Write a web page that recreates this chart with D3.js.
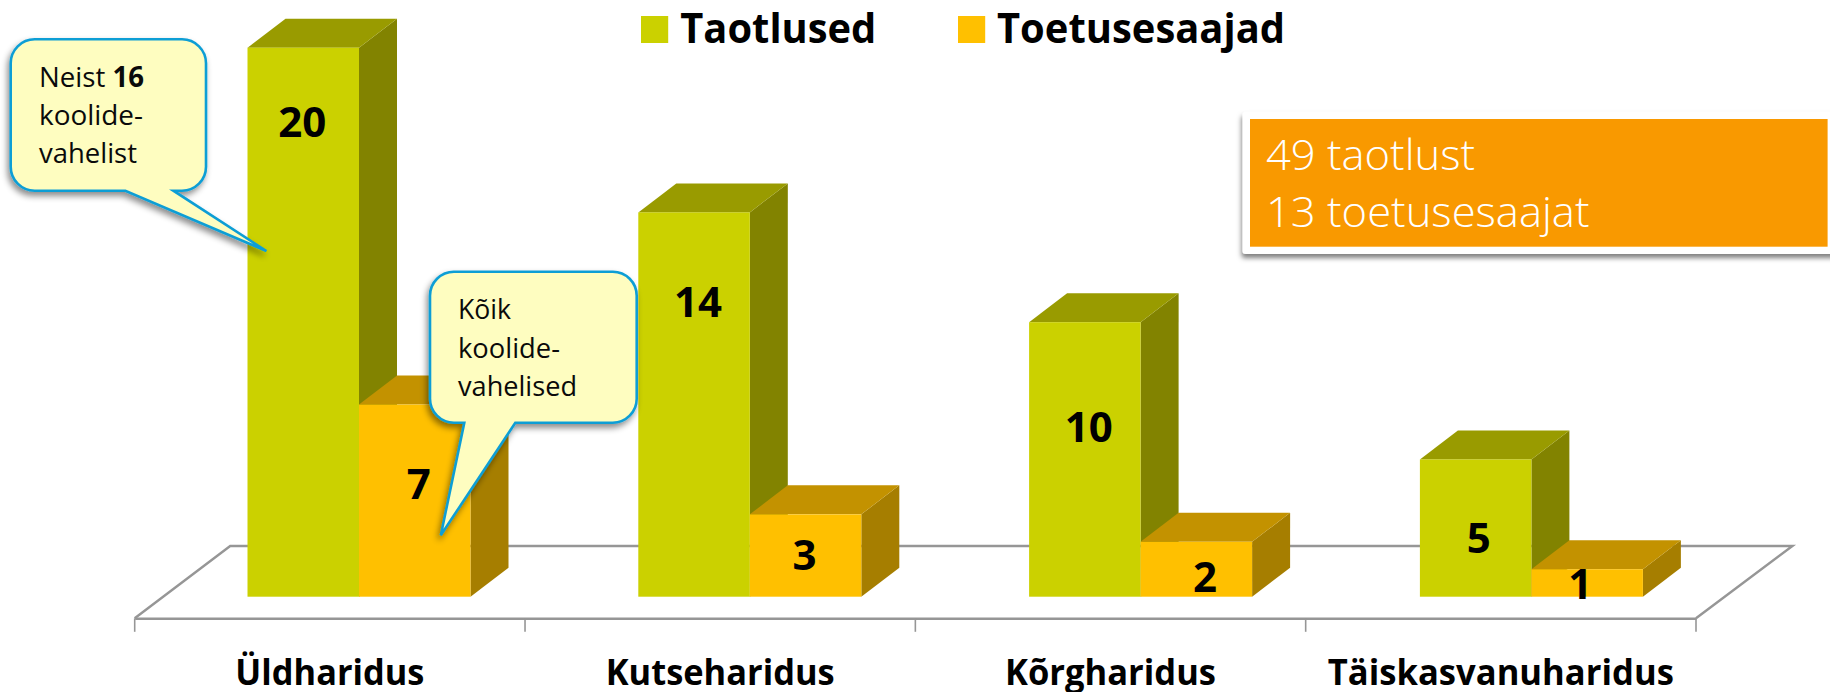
<!DOCTYPE html>
<html><head><meta charset="utf-8">
<script src="https://cdn.jsdelivr.net/npm/d3@7"></script>
<style>html,body{margin:0;padding:0;background:#fff;overflow:hidden}svg{display:block}text{font-family:"Open Sans",sans-serif}</style>
</head><body><svg id="c" width="1830" height="692"></svg>
<script>
const categories = ["Üldharidus","Kutseharidus","Kõrgharidus","Täiskasvanuharidus"];
const taotlused = [20,14,10,5];
const toetusesaajad = [7,3,2,1];
const seriesNames = ["Taotlused","Toetusesaajad"];
const summaryLines = ["49 taotlust","13 toetusesaajat"];

// Layout (separate from data)
const W=1830,H=692,baseY=596.7,topY=47.7,floorFront=618.3,floorBack=546,floorDX=95.5;
const depthX=38,depthY=29;
const colors={Taotlused:{front:"#CBD100",top:"#999B00",side:"#828300"},Toetusesaajad:{front:"#FFC000",top:"#C39200",side:"#A67E00"}};
const labelNudge={Taotlused:[[-1,89],[4,105],[4,120],[3,94]],Toetusesaajad:[[4,94],[-1,56],[8.6,50],[-7,29.5]]};
const axisTextLen=[189,229,211,346];

const svg=d3.select("#c");
const defs=svg.append("defs");
const mkShadow=(id,dx,dy,sd,op)=>defs.append("filter").attr("id",id).attr("x","-20%").attr("y","-20%").attr("width","140%").attr("height","140%")
  .append("feDropShadow").attr("dx",dx).attr("dy",dy).attr("stdDeviation",sd).attr("flood-color","#000").attr("flood-opacity",op);
mkShadow("s1",-2,4,3,.45);
mkShadow("s2",-1,4,2.5,.5);

const x0=d3.scaleBand().domain(categories).range([134.7,1696]);
const xBars=d3.scaleBand().domain(categories).range([247.5,247.5+4*390.8]);
const x1=d3.scaleBand().domain(seriesNames).range([0,223]);
const y=d3.scaleLinear().domain([0,20]).range([baseY,topY]);

// floor
const fx0=x0.range()[0],fx1=x0.range()[1];
svg.append("path").attr("d",d3.line()([[fx0,floorFront],[fx0+floorDX,floorBack],[fx1+floorDX+1,floorBack],[fx1,floorFront]]))
  .attr("fill","#fff").attr("stroke","#969696").attr("stroke-width",2.4).attr("stroke-linejoin","miter");

// axis
const axis=svg.append("g").attr("transform",`translate(0,${floorFront})`)
  .call(d3.axisBottom(x0).tickSize(0).tickPadding(0));
axis.select(".domain").attr("stroke","#969696").attr("stroke-width",2.4);
axis.selectAll("text").attr("y",66.7).attr("dy",0).attr("fill","#000")
  .style("font-size","36px").style("font-weight",700)
  .attr("textLength",(d,i)=>axisTextLen[i]).attr("lengthAdjust","spacingAndGlyphs");
const edges=categories.map(c=>x0(c)).concat([fx1]);
svg.append("g").selectAll("line").data(edges).join("line")
  .attr("x1",d=>d).attr("x2",d=>d).attr("y1",floorFront).attr("y2",floorFront+13.5)
  .attr("stroke","#969696").attr("stroke-width",1.6);

// bars
const poly=(pts)=>d3.line()(pts)+"Z";
const rows=categories.map((c,i)=>[{c,i,s:"Taotlused",v:taotlused[i]},{c,i,s:"Toetusesaajad",v:toetusesaajad[i]}]);
const bars=svg.append("g");
rows.flat().forEach(d=>{
  const g=bars.append("g"),l=xBars(d.c)+x1(d.s),r=l+x1.bandwidth(),t=y(d.v),b=y(0),k=colors[d.s];
  g.append("path").attr("d",poly([[r,t],[r+depthX,t-depthY],[r+depthX,b-depthY],[r,b]])).attr("fill",k.side);
  g.append("path").attr("d",poly([[l,t],[l+depthX,t-depthY],[r+depthX,t-depthY],[r,t]])).attr("fill",k.top);
  g.append("rect").attr("x",l).attr("y",t).attr("width",r-l).attr("height",b-t).attr("fill",k.front);
});
// value labels
const labels=svg.append("g");
rows.flat().forEach(d=>{
  const n=labelNudge[d.s][d.i],l=xBars(d.c)+x1(d.s);
  labels.append("text").attr("x",l+x1.bandwidth()/2+n[0]).attr("y",y(d.v)+n[1])
    .attr("text-anchor","middle").style("font-size","42px").style("font-weight",700).attr("fill","#000").text(d.v);
});

// legend
const legendX=[[641,680.3,196],[958,997,288]];
const lg=svg.append("g");
seriesNames.forEach((s,i)=>{
  lg.append("rect").attr("x",legendX[i][0]).attr("y",16).attr("width",27.2).attr("height",27).attr("fill",colors[s].front);
  lg.append("text").attr("x",legendX[i][1]).attr("y",43.2).style("font-size","42px").style("font-weight",700).attr("fill","#000")
    .attr("textLength",legendX[i][2]).attr("lengthAdjust","spacingAndGlyphs").text(s);
});

// summary box
svg.append("rect").attr("x",1242.6).attr("y",111.7).attr("width",620).attr("height",142.3).attr("rx",3).attr("fill","#fff").attr("filter","url(#s2)");
svg.append("rect").attr("x",1250).attr("y",119).attr("width",577.6).attr("height",127.7).attr("fill","#F99900");
const sumY=[170,226.7],sumLen=[209,323.5];
summaryLines.forEach((t,i)=>svg.append("text").attr("x",1266).attr("y",sumY[i]).style("font-size","42px").style("font-weight",300).attr("fill","#fff")
  .attr("textLength",sumLen[i]).attr("lengthAdjust","spacingAndGlyphs").text(t));

// callouts
function callout(l,t,r,b,rad,ta,tip,tb){
  const p=d3.path();
  p.moveTo(l+rad,t);p.lineTo(r-rad,t);p.arcTo(r,t,r,t+rad,rad);p.lineTo(r,b-rad);p.arcTo(r,b,r-rad,b,rad);
  p.lineTo(tb,b);p.lineTo(tip[0],tip[1]);p.lineTo(ta,b);p.lineTo(l+rad,b);p.arcTo(l,b,l,b-rad,rad);p.lineTo(l,t+rad);p.arcTo(l,t,l+rad,t,rad);p.closePath();
  svg.append("path").attr("d",p.toString()).attr("fill","#FEFDC0").attr("stroke","#0F9ED5").attr("stroke-width",2.6).attr("stroke-linejoin","miter").attr("filter","url(#s1)");
}
callout(10.7,39.3,206,190.7,24,125.4,[266.4,251],173.4);
callout(430,271.7,636.7,422.7,24,464.3,[440.8,535.3],515.3);
const note=(x,yy,len,parts)=>{const t=svg.append("text").attr("x",x).attr("y",yy).style("font-size","28px").attr("fill","#0a0a0a")
  .attr("textLength",len).attr("lengthAdjust","spacingAndGlyphs");
  parts.forEach(p=>t.append("tspan").style("font-weight",p[1]?700:400).text(p[0]));};
note(39,86.7,105,[["Neist ",0],["16",1]]);
note(39,125,104,[["koolide-",0]]);
note(39,163.3,98,[["vahelist",0]]);
note(458,319,53,[["Kõik",0]]);
note(458,358.3,102,[["koolide-",0]]);
note(458,395.7,119,[["vahelised",0]]);
</script></body></html>
